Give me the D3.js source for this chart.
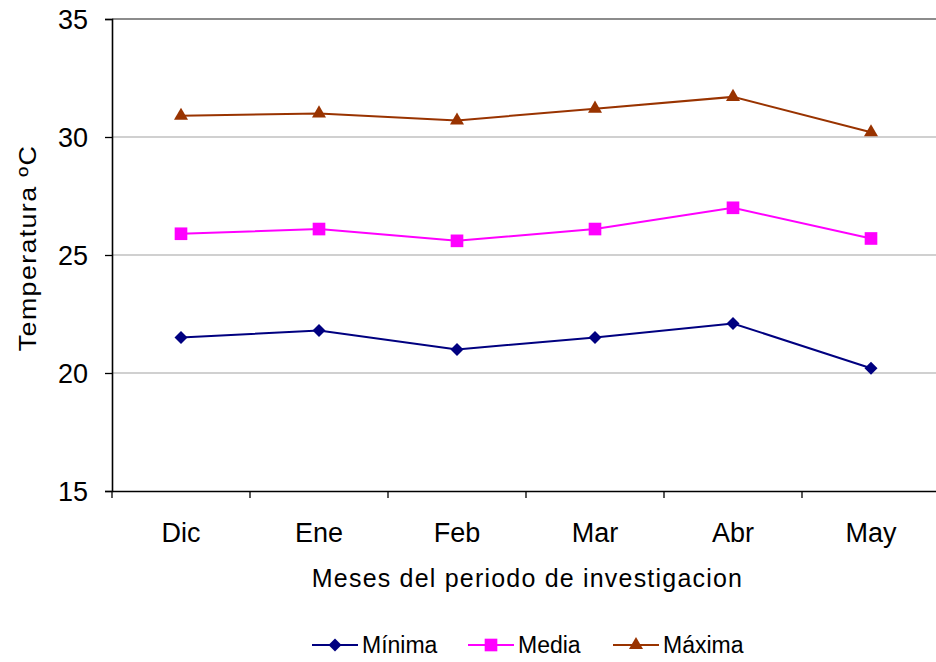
<!DOCTYPE html>
<html>
<head>
<meta charset="utf-8">
<script src="https://cdn.jsdelivr.net/npm/d3@7"></script>
<style>
  body { margin: 0; background: #fff; }
  text { font-family: "Liberation Sans", Arial, sans-serif; fill: #000; }
</style>
</head>
<body>
<div class="vis-holder"></div>
<script>
const width = 936;
const height = 662;

const months = ["Dic", "Ene", "Feb", "Mar", "Abr", "May"];
const minima = [21.5, 21.8, 21.0, 21.5, 22.1, 20.2];
const media = [25.9, 26.1, 25.6, 26.1, 27.0, 25.7];
const maxima = [30.9, 31.0, 30.7, 31.2, 31.7, 30.2];
const yTicks = [15, 20, 25, 30, 35];

// diamond = square turned 45 degrees
const series = [
    { name: "Mínima", values: minima, color: "#000080", symbol: d3.symbolSquare, size: 85, rot: 45 },
    { name: "Media", values: media, color: "#FF00FF", symbol: d3.symbolSquare, size: 160, rot: 0 },
    { name: "Máxima", values: maxima, color: "#993300", symbol: d3.symbolTriangle, size: 85, rot: 0 }
];

const margin = { top: 19, left: 112, bottom: 171 };
const bandW = 138;

const svg = d3.select(".vis-holder").append("svg")
    .attr("width", width)
    .attr("height", height);

const x = d3.scaleBand()
    .domain(months)
    .range([margin.left, margin.left + bandW * months.length]);

const y = d3.scaleLinear()
    .domain([15, 35])
    .range([height - margin.bottom, margin.top]);

// gridlines
svg.append("g")
    .selectAll("line")
    .data(yTicks.filter(t => t > 15))
    .enter().append("line")
    .attr("x1", margin.left)
    .attr("x2", width)
    .attr("y1", d => y(d))
    .attr("y2", d => y(d))
    .attr("stroke", d => d === 35 ? "#8c8c8c" : "#c0c0c0")
    .attr("stroke-width", d => d === 35 ? 2 : 1.3);

// y axis
const yAxis = svg.append("g")
    .attr("transform", `translate(${margin.left},0)`)
    .call(d3.axisLeft(y).tickValues(yTicks).tickSize(7).tickPadding(17));
yAxis.select(".domain").attr("stroke", "#000").attr("stroke-width", 1.6);
yAxis.selectAll(".tick line").attr("stroke", "#000").attr("stroke-width", 1.3);
yAxis.selectAll(".tick text")
    .attr("font-size", 27)
    .attr("dy", "0.36em");

// x axis
const xAxis = svg.append("g")
    .attr("transform", `translate(0,${y(15)})`)
    .call(d3.axisBottom(x).tickSize(0).tickPadding(32));
xAxis.select(".domain").attr("stroke", "#000").attr("stroke-width", 1.6);
xAxis.selectAll(".tick text")
    .attr("font-size", 27);

// category separator ticks
svg.append("g")
    .selectAll("line")
    .data(months)
    .enter().append("line")
    .attr("x1", d => x(d))
    .attr("x2", d => x(d))
    .attr("y1", y(15))
    .attr("y2", y(15) + 7)
    .attr("stroke", "#000")
    .attr("stroke-width", 1.3);

const cx = d => x(d) + x.bandwidth() / 2;

// lines and markers
series.forEach(s => {
    const line = d3.line()
        .x((v, i) => cx(months[i]))
        .y(v => y(v));
    svg.append("path")
        .datum(s.values)
        .attr("d", line)
        .attr("fill", "none")
        .attr("stroke", s.color)
        .attr("stroke-width", 2);
    svg.append("g")
        .selectAll("path")
        .data(s.values)
        .enter().append("path")
        .attr("d", d3.symbol().type(s.symbol).size(s.size))
        .attr("transform", (v, i) => `translate(${cx(months[i])},${y(v)}) rotate(${s.rot})`)
        .attr("fill", s.color);
});

// axis titles
svg.append("text")
    .attr("transform", "translate(36,248) rotate(-90) scale(1.12,1)")
    .attr("text-anchor", "middle")
    .attr("font-size", 24)
    .attr("letter-spacing", 1.2)
    .text("Temperatura ºC");

svg.append("text")
    .attr("x", (310 + 745) / 2)
    .attr("y", 587)
    .attr("text-anchor", "middle")
    .attr("font-size", 25)
    .attr("letter-spacing", 1.2)
    .text("Meses del periodo de investigacion");

// legend
const legendX = [312, 468, 613];
const legend = svg.append("g");
series.forEach((s, i) => {
    const g = legend.append("g").attr("transform", `translate(${legendX[i]},645)`);
    g.append("line")
        .attr("x1", 0).attr("x2", 46)
        .attr("stroke", s.color).attr("stroke-width", 2);
    g.append("path")
        .attr("d", d3.symbol().type(s.symbol).size(s.size))
        .attr("transform", `translate(23,0) rotate(${s.rot})`)
        .attr("fill", s.color);
    g.append("text")
        .attr("x", 50)
        .attr("dy", "0.36em")
        .attr("font-size", 23)
        .text(s.name);
});
</script>
</body>
</html>
